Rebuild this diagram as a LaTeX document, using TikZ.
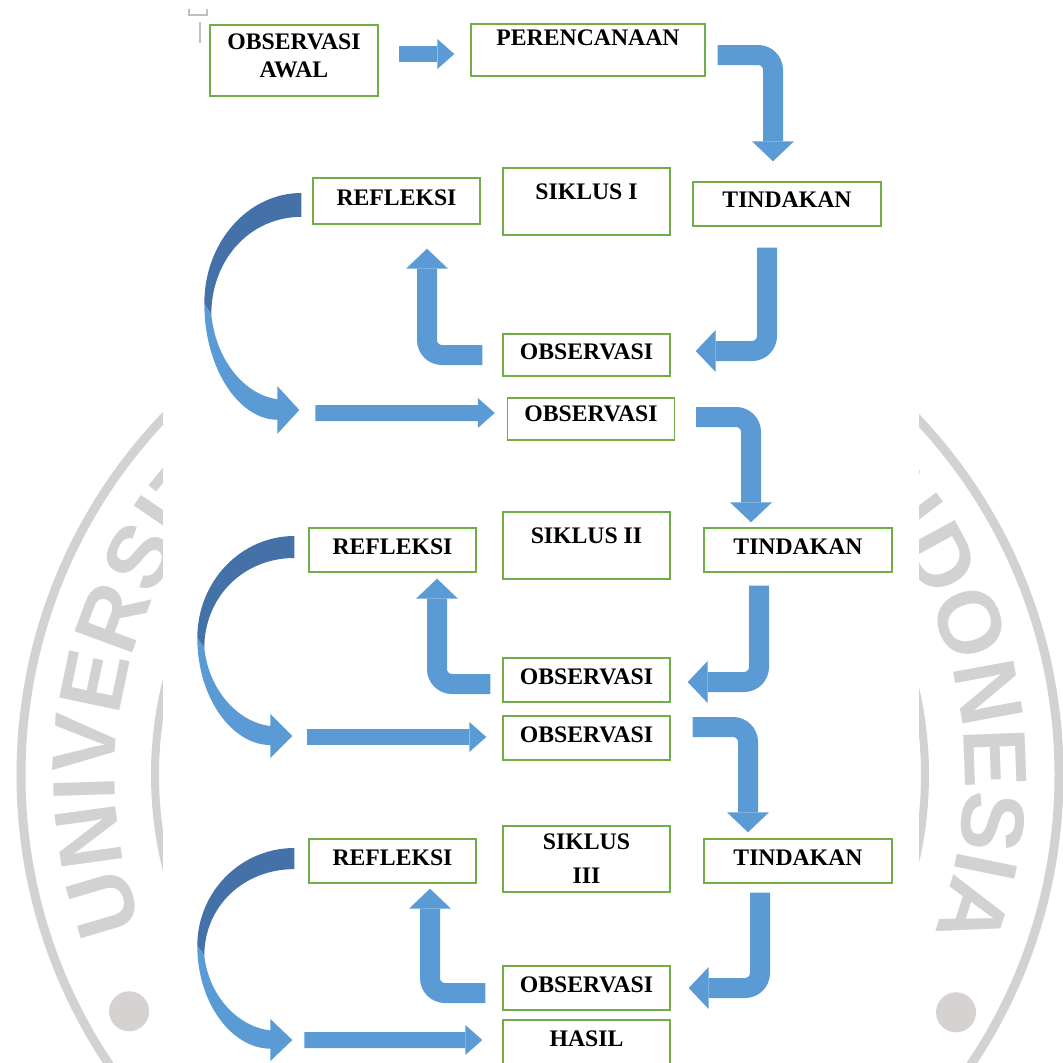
\documentclass[tikz,border=0pt]{standalone}
\usepackage{fontspec}
\setmainfont{Liberation Serif}
\newfontfamily\wmfont{Liberation Sans}
\usetikzlibrary{arrows.meta,calc,decorations.text}
\definecolor{boxgreen}{RGB}{112,173,71}
\definecolor{arrowblue}{RGB}{91,155,213}
\definecolor{arrowdark}{RGB}{68,114,168}
\definecolor{wmgray}{RGB}{210,210,210}
\definecolor{wmdot}{RGB}{214,210,209}
\newcommand{\wmstyle}{\wmfont\bfseries\fontsize{50.7}{51}\selectfont}

\begin{document}
\begin{tikzpicture}[x=0.02cm,y=-0.02cm,
    box/.style={draw=boxgreen,line width=0.8pt,fill=white,inner sep=0pt,align=center,
      font=\bfseries\fontsize{13.5}{15}\selectfont,
      minimum width=3.34cm,minimum height=0.88cm,text depth=0.14cm},
    flatarrow/.style={draw=arrowblue,line width=0.32cm,
      -{Triangle[width=0.6cm,length=0.34cm,line width=0pt]}},
    bentarrow/.style={draw=arrowblue,line width=0.4cm,rounded corners=0.3cm,
      -{Triangle[width=0.84cm,length=0.4cm,line width=0pt]}}]
  \tikzset{loop arrow/.pic={
      \fill[arrowdark] (0,0) .. controls (-53,0) and (-97,45) .. (-97,102)
        -- (-90,112) .. controls (-90,61) and (-51,22) .. (0,22) -- cycle;
      \fill[arrowblue] (-97,102) .. controls (-97,162) and (-62,209) .. (-24,209)
        -- (-24,222) -- (-2,200) -- (-24,178) -- (-24,190)
        .. controls (-58,186) and (-86,152) .. (-90,112) -- cycle;
      \coordinate (-tip) at (-2,200);}}
  \useasboundingbox (0,0) rectangle (1063,1063);
  \fill[white] (0,0) rectangle (1063,1063);

  % watermark behind the page
  \begin{scope}[shift={(540,775)},x=0.02cm,y=0.02cm]
    \draw[wmgray,line width=0.18cm] (0,0) circle[radius=519];
    \draw[wmgray,line width=0.16cm] (0,0) circle[radius=385];
    \fill[wmdot] (209.9:474) circle[radius=20];
    \fill[wmdot] (-29.7:479) circle[radius=20];
    \path[decorate,decoration={text along path,text={|\wmstyle|UNIVERSITAS},
        text color=wmgray,text align=left}]
      (200.8:425) arc[start angle=200.8,end angle=100,radius=425];
    \path[decorate,decoration={text along path,text={|\wmstyle|INDONESIA},
        text color=wmgray,text align=right}]
      (80:425) arc[start angle=80,end angle=-21.9,radius=425];
  \end{scope}
  \fill[white] (163,0) rectangle (919,1063);
  \draw[black!25,line width=0.6pt] (189,9) -- (189,15) -- (207,15) -- (207,9);
  \draw[black!25,line width=0.6pt] (200,22) -- (200,43);

  \node[box,minimum width=3.36cm,minimum height=1.42cm,text depth=0.18cm] (awal) at (294,60.5) {OBSERVASI\\[1pt]AWAL};
  \node[box,minimum width=4.68cm,minimum height=1.04cm,text depth=0.48cm] (plan) at (588,50) {PERENCANAAN};

  \node[box,minimum height=1.34cm,text depth=0.38cm] (siklusI) at (586.5,201.5) {SIKLUS I};
  \node[box,minimum height=0.92cm,text depth=0.12cm] (reflI) at (396.5,201) {REFLEKSI};
  \node[box,minimum width=3.76cm,text depth=0.16cm] (tindI) at (787,204) {TINDAKAN};
  \node[box,minimum height=0.84cm,text depth=0.12cm] (obsI) at (586.5,355) {OBSERVASI};
  \node[box,minimum height=0.84cm,text depth=0.2cm] (startII) at (591,419) {OBSERVASI};

  \node[box] (reflII) at (392.5,550) {REFLEKSI};
  \node[box,minimum height=1.34cm,text depth=0.38cm] (siklusII) at (586.5,545.5) {SIKLUS II};
  \node[box,minimum width=3.76cm] (tindII) at (798,550) {TINDAKAN};
  \node[box] (obsII) at (586.5,680) {OBSERVASI};
  \node[box] (startIII) at (586.5,738) {OBSERVASI};

  \node[box] (reflIII) at (392.5,861) {REFLEKSI};
  \node[box,minimum height=1.32cm,text depth=0pt] (siklusIII) at (586.5,859) {SIKLUS\\[0.15cm]III};
  \node[box,minimum width=3.76cm] (tindIII) at (798,861) {TINDAKAN};
  \node[box] (obsIII) at (586.5,988) {OBSERVASI};
  \node[box] (hasil) at (586.5,1042) {HASIL};

  \draw[flatarrow] ($(awal.east)+(20,-6.5)$) -- ($(plan.west)+(-16,4)$);

  \draw[bentarrow] ($(plan.east)+(12,5)$) -| ($(tindI.north)+(-14,-20)$);
  \draw[bentarrow] ($(tindI.south)+(-20,21)$) |- ($(obsI.east)+(25,-4)$);
  \draw[bentarrow] ($(obsI.west)+(-20,0)$) -| ($(reflI.south)+(30.5,24)$);
  \pic[yscale=1.085] (loopI) at ($(reflI.west)+(-11,-8)$) {loop arrow};
  \draw[flatarrow] ($(loopI-tip)+(16,3)$) -- ($(startII.west)+(-12,-6)$);

  \draw[bentarrow] ($(startII.east)+(21,-2)$) -| ($(tindII.north)+(-47,-5)$);
  \draw[bentarrow] ($(tindII.south)+(-39,13)$) |- ($(obsII.east)+(17,2)$);
  \draw[bentarrow] ($(obsII.west)+(-12,4)$) -| ($(reflII.south)+(44.5,6)$);
  \pic (loopII) at ($(reflII.west)+(-14,-14)$) {loop arrow};
  \draw[flatarrow] ($(loopII-tip)+(15,1)$) -- ($(startIII.west)+(-16,-1)$);

  \draw[bentarrow] ($(startIII.east)+(22,-11)$) -| ($(tindIII.north)+(-50,-6)$);
  \draw[bentarrow] ($(tindIII.south)+(-38,9)$) |- ($(obsIII.east)+(18,0)$);
  \draw[bentarrow] ($(obsIII.west)+(-17,5)$) -| ($(reflIII.south)+(37.5,5)$);
  \pic[yscale=0.96] (loopIII) at ($(reflIII.west)+(-14,-13)$) {loop arrow};
  \draw[flatarrow] ($(loopIII-tip)+(12,0)$) -- ($(hasil.west)+(-20,-2)$);
\end{tikzpicture}
\end{document}
